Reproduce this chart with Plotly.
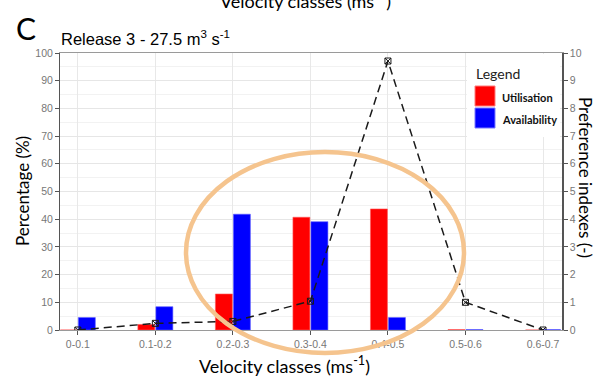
import plotly.graph_objects as go

# Velocity classes and the two percentage series (left axis)
classes = ["0-0.1", "0.1-0.2", "0.2-0.3", "0.3-0.4", "0.4-0.5", "0.5-0.6", "0.6-0.7"]
utilisation = [0.0, 2.0, 13.0, 40.7, 43.7, 0.15, 0.0]
availability = [4.5, 8.4, 41.8, 39.1, 4.5, 0.15, 0.15]
# Preference index per class (right axis)
preference = [0.0, 0.24, 0.31, 1.04, 9.71, 1.0, 0.0]

W, H = 597, 382
L, R, T, B = 60, 35, 53, 52
PW, PH = W - L - R, H - T - B


def px(x):
    return (x - L) / PW


def py(y):
    return (H - B - y) / PH


TICK = dict(family="Liberation Sans, Arial", size=10.5, color="#777777")
CAL = "Lato, Carlito, Calibri, sans-serif"

fig = go.Figure()
fig.add_bar(x=classes, y=utilisation, name="Utilisation",
            marker=dict(color="#ff0000", line=dict(color="#ff5a5a", width=0.6)))
fig.add_bar(x=classes, y=availability, name="Availability",
            marker=dict(color="#0000ff", line=dict(color="#5a5aff", width=0.6)))
fig.add_scatter(x=classes, y=preference, yaxis="y2", mode="lines+markers",
                line=dict(color="#1a1a1a", width=1.5, dash="8px,5px"),
                marker=dict(symbol="square-x-open", size=6, color="#1a1a1a",
                            line=dict(width=1)),
                showlegend=False)

fig.update_layout(
    width=W, height=H,
    margin=dict(l=L, r=R, t=T, b=B),
    paper_bgcolor="white", plot_bgcolor="white",
    barmode="group", bargap=0.535, bargroupgap=0.06,
    showlegend=False,
    xaxis=dict(type="category", range=[-0.23, 6.245],
               showgrid=True, gridcolor="#e8e8e8", gridwidth=1,
               showline=True, mirror=True, linecolor="#9a9a9a", linewidth=1,
               ticks="outside", ticklen=4, tickcolor="#555555",
               tickfont=TICK),
    yaxis=dict(range=[0, 100], dtick=10, showgrid=True, gridcolor="#e6e6e6",
               gridwidth=1, minor=dict(dtick=5, showgrid=True, gridcolor="#f2f2f2"),
               showline=True, linecolor="#555555", linewidth=1,
               ticks="outside", ticklen=4, tickcolor="#555555",
               tickfont=TICK, zeroline=False),
    yaxis2=dict(range=[0, 10], dtick=1, overlaying="y", side="right",
                showgrid=False, showline=True, linecolor="#555555", linewidth=1.5,
                ticks="outside", ticklen=4, tickcolor="#555555",
                tickfont=TICK, zeroline=False),
)

# Text positions below are given in whole-figure pixels and converted afterwards
annotations = [
    dict(text="C", x=14, y=28, font=dict(family=CAL, size=30, color="black")),
    dict(text="E", x=14, y=396, font=dict(family=CAL, size=30, color="black")),
    dict(text="Velocity classes (ms<sup>-1</sup>)", x=305, y=0,
         font=dict(family=CAL, size=18, color="black"), xanchor="center"),
    dict(text="Release 3 - 27.5 m<sup>3</sup> s<sup>-1</sup>", x=59, y=38,
         font=dict(family="Liberation Sans, Arial", size=16.5, color="black")),
    dict(text="Velocity classes (ms<sup>-1</sup>)", x=284, y=365,
         font=dict(family=CAL, size=18, color="black"), xanchor="center"),
    dict(text="Percentage (%)", x=22, y=191, textangle=-90,
         font=dict(family=CAL, size=17, color="black"), xanchor="center"),
    dict(text="Preference indexes (-)", x=586, y=177, textangle=90,
         font=dict(family=CAL, size=17, color="black"), xanchor="center"),
    dict(text="Legend", x=474, y=73,
         font=dict(family=CAL, size=14, color="#222222")),
    dict(text="<b>Utilisation</b>", x=500, y=97,
         font=dict(family=CAL, size=11, color="#111111")),
    dict(text="<b>Availability</b>", x=500, y=119,
         font=dict(family=CAL, size=11, color="#111111")),
]
for a in annotations:
    a.setdefault("xanchor", "left")
    a["x"] = px(a["x"])
    a["y"] = py(a["y"])
    fig.add_annotation(xref="paper", yref="paper", showarrow=False,
                       yanchor="middle", **a)

shapes = [
    # legend panel
    dict(type="rect", x0=px(467), x1=px(560), y0=py(137), y1=py(54),
         fillcolor="white", line=dict(width=0), layer="above"),
    dict(type="rect", x0=px(475), x1=px(495), y0=py(106), y1=py(86),
         fillcolor="#ff0000", line=dict(color="#ff7a7a", width=1), layer="above"),
    dict(type="rect", x0=px(475), x1=px(495), y0=py(128), y1=py(108),
         fillcolor="#0000ff", line=dict(color="#7a7aff", width=1), layer="above"),
    # highlight ring
    dict(type="circle", x0=px(186), x1=px(464), y0=py(353), y1=py(152),
         line=dict(color="#F5C48E", width=4.5), layer="above"),
]
for s in shapes:
    fig.add_shape(xref="paper", yref="paper", **s)

fig.write_html("out.html")
